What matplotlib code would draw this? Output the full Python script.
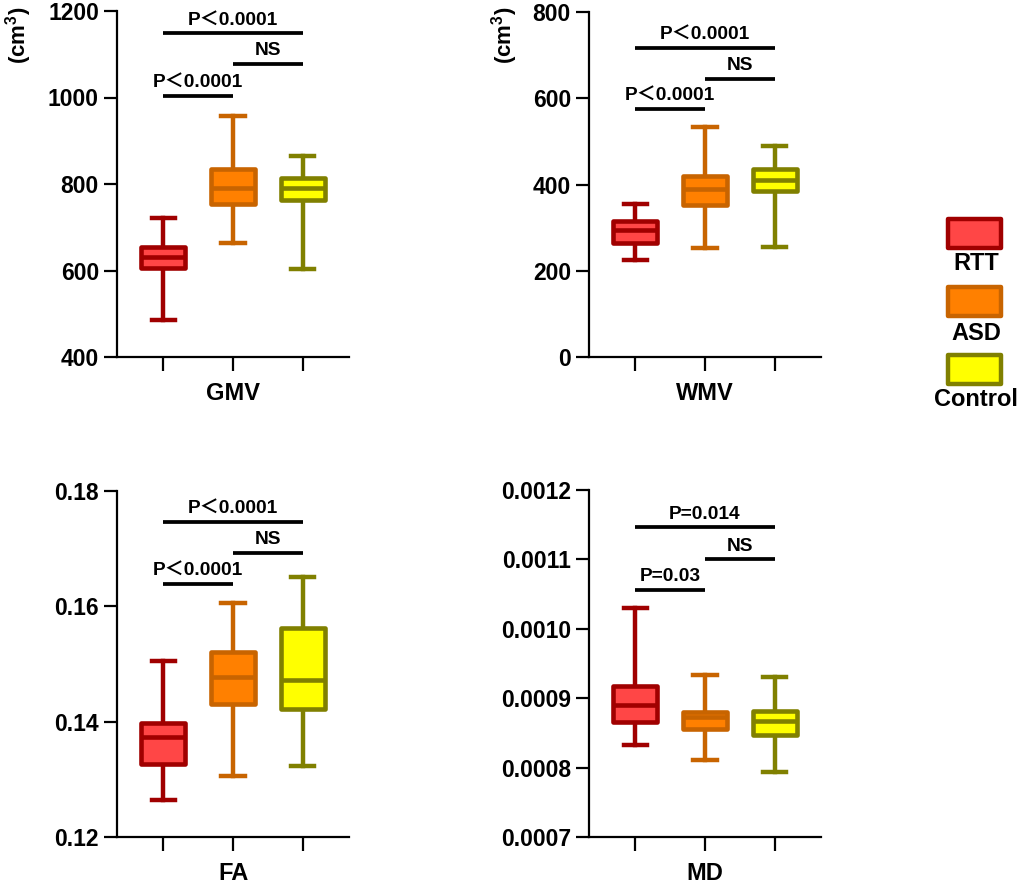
import matplotlib
matplotlib.use("Agg")
import matplotlib.pyplot as plt
from matplotlib.patches import Rectangle
from matplotlib.ticker import FormatStrFormatter

plt.rcParams['font.family'] = ['Liberation Sans', 'Noto Sans CJK SC', 'DejaVu Sans']
plt.rcParams['font.weight'] = 'bold'
plt.rcParams['mathtext.fontset'] = 'custom'
plt.rcParams['mathtext.rm'] = 'Liberation Sans:bold'
plt.rcParams['mathtext.bf'] = 'Liberation Sans:bold'

# ---------------- data (whislo, q1, median, q3, whishi) ----------------
groups = ["RTT", "ASD", "Control"]
fill_colors = ["#FF4646", "#FF8000", "#FFFF00"]
edge_colors = ["#A00000", "#C86400", "#808000"]

gmv_rtt = [486, 606, 632, 654, 721]
gmv_asd = [664, 753, 791, 834, 957]
gmv_ctrl = [603, 763, 790, 815, 865]

wmv_rtt = [224, 264, 294, 316, 355]
wmv_asd = [252, 353, 389, 420, 534]
wmv_ctrl = [256, 386, 411, 435, 490]

fa_rtt = [0.1264, 0.1326, 0.1373, 0.1398, 0.1506]
fa_asd = [0.1305, 0.1431, 0.1477, 0.1521, 0.1605]
fa_ctrl = [0.1323, 0.1422, 0.1472, 0.1562, 0.1651]

md_rtt = [0.000833, 0.000865, 0.000890, 0.000918, 0.001030]
md_asd = [0.000811, 0.000856, 0.000873, 0.000880, 0.000934]
md_ctrl = [0.000794, 0.000847, 0.000867, 0.000881, 0.000930]

panel_names = ["GMV", "WMV", "FA", "MD"]
panel_data = [
    [gmv_rtt, gmv_asd, gmv_ctrl],
    [wmv_rtt, wmv_asd, wmv_ctrl],
    [fa_rtt, fa_asd, fa_ctrl],
    [md_rtt, md_asd, md_ctrl],
]
yticks_all = [
    [400, 600, 800, 1000, 1200],
    [0, 200, 400, 600, 800],
    [0.12, 0.14, 0.16, 0.18],
    [0.0007, 0.0008, 0.0009, 0.0010, 0.0011, 0.0012],
]
yfmt = ["%d", "%d", "%.2f", "%.4f"]
units = ["(cm$^{3}$)", "(cm$^{3}$)", None, None]

# significance bars: (x1, x2, height, label)
sig_gmv = [(1, 3, 1148, "P＜0.0001"), (2, 3, 1077, "NS"), (1, 2, 1004, "P＜0.0001")]
sig_wmv = [(1, 3, 717, "P＜0.0001"), (2, 3, 645, "NS"), (1, 2, 575, "P＜0.0001")]
sig_fa = [(1, 3, 0.1747, "P＜0.0001"), (2, 3, 0.1692, "NS"), (1, 2, 0.1639, "P＜0.0001")]
sig_md = [(1, 3, 0.001146, "P=0.014"), (2, 3, 0.0011, "NS"), (1, 2, 0.001056, "P=0.03")]
sig_all = [sig_gmv, sig_wmv, sig_fa, sig_md]

# ---------------- layout ----------------
W, H = 1021, 884
fig = plt.figure(figsize=(W / 100, H / 100), dpi=100)

def frac_rect(left, top, right, bottom):
    return [left / W, 1 - bottom / H, (right - left) / W, (bottom - top) / H]

rects = [
    frac_rect(117, 11, 349, 357),
    frac_rect(589, 12, 821, 357),
    frac_rect(117, 491, 349, 837),
    frac_rect(589, 490, 821, 837),
]
ylabel_pos = [(19, 35), (505, 35)]

positions = [1, 2, 3]

for i, (rect, name, data, yt, fmt, sig) in enumerate(
        zip(rects, panel_names, panel_data, yticks_all, yfmt, sig_all)):
    ax = fig.add_axes(rect)
    stats = [dict(whislo=d[0], q1=d[1], med=d[2], q3=d[3], whishi=d[4], label=g)
             for d, g in zip(data, groups)]
    bp = ax.bxp(stats, positions=positions, widths=0.62, capwidths=0.33,
                showfliers=False, patch_artist=True)
    for j in range(3):
        bp['boxes'][j].set_facecolor(fill_colors[j])
        bp['boxes'][j].set_edgecolor(edge_colors[j])
        bp['boxes'][j].set_linewidth(3.3)
        bp['boxes'][j].set_joinstyle('round')
        bp['medians'][j].set_color(edge_colors[j])
        bp['medians'][j].set_linewidth(3.3)
        bp['medians'][j].set_solid_capstyle('butt')
        for k in (2 * j, 2 * j + 1):
            bp['whiskers'][k].set_color(edge_colors[j])
            bp['whiskers'][k].set_linewidth(3.2)
            bp['caps'][k].set_color(edge_colors[j])
            bp['caps'][k].set_linewidth(3.2)
    for w in bp['whiskers']:
        w.set_zorder(1)
    ax.set_xlim(0.34, 3.66)
    ax.set_ylim(yt[0], yt[-1])
    ax.set_yticks(yt)
    ax.yaxis.set_major_formatter(FormatStrFormatter(fmt))
    ax.set_xticks(positions)
    ax.set_xticklabels(["", "", ""])
    for s in ("top", "right"):
        ax.spines[s].set_visible(False)
    for s in ("left", "bottom"):
        ax.spines[s].set_linewidth(1.6)
        ax.spines[s].set_capstyle('projecting')
    ax.tick_params(axis='y', length=9.5, width=1.6, pad=3.5, labelsize=16.5)
    ax.tick_params(axis='x', length=10, width=1.6)
    for lab in ax.get_yticklabels():
        lab.set_fontweight('bold')
    ax.annotate(name, xy=(2, 0), xycoords=('data', 'axes fraction'),
                xytext=(0, -26), textcoords='offset points',
                ha='center', va='center', fontsize=17, fontweight='bold')
    for (x1, x2, yv, lab) in sig:
        ax.plot([x1, x2], [yv, yv], color='black', lw=2.7, solid_capstyle='butt',
                clip_on=False)
        ax.annotate(lab, xy=((x1 + x2) / 2, yv), xycoords='data',
                    xytext=(0, 3.5), textcoords='offset points',
                    ha='center', va='bottom', fontsize=13.8, fontweight='bold',
                    annotation_clip=False)
    if units[i] is not None:
        px, py = ylabel_pos[i]
        fig.text(px / W, 1 - py / H, units[i], rotation=90, ha='center', va='center',
                 fontsize=16, fontweight='bold')

# ---------------- legend ----------------
legend_boxes = [(948, 219, 1001, 248), (948, 287, 1001, 316), (948, 355, 1001, 384)]
legend_text_y = [264, 333, 400]
for j, g in enumerate(groups):
    l, t, r, b = legend_boxes[j]
    fig.add_artist(Rectangle((l / W, 1 - b / H), (r - l) / W, (b - t) / H,
                             transform=fig.transFigure, facecolor=fill_colors[j],
                             edgecolor=edge_colors[j], linewidth=3.2, joinstyle='round'))
    fig.text(976 / W, 1 - legend_text_y[j] / H, g, ha='center', va='center',
             fontsize=17, fontweight='bold')

fig.savefig("out.png", dpi=100)
